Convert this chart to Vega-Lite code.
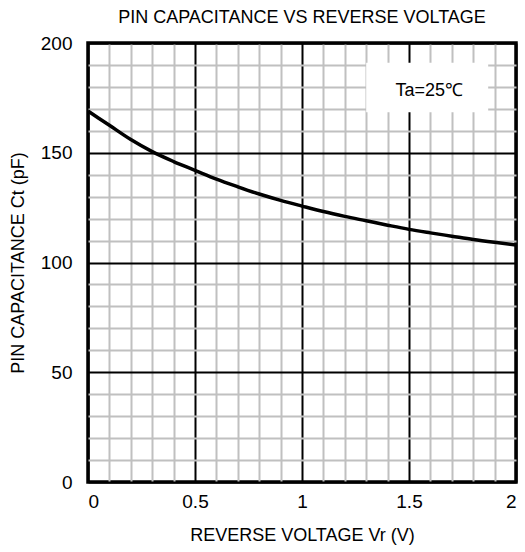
{
  "$schema": "https://vega.github.io/schema/vega-lite/v6.json",
  "autosize": "none",
  "width": 428,
  "height": 439,
  "padding": {"left": 88, "top": 43, "right": 9, "bottom": 70},
  "background": "white",
  "config": {
    "font": "Liberation Sans",
    "view": {"stroke": "black", "strokeWidth": 3.5},
    "axis": {
      "domain": false,
      "ticks": false,
      "labelFont": "Liberation Sans",
      "labelFontSize": 19,
      "labelColor": "black",
      "titleFont": "Liberation Sans",
      "titleFontSize": 18,
      "titleFontWeight": "normal",
      "titleColor": "black",
      "gridWidth": 2,
      "gridOpacity": 1
    }
  },
  "title": {
    "text": "PIN CAPACITANCE VS REVERSE VOLTAGE",
    "font": "Liberation Sans",
    "fontSize": 18,
    "fontWeight": "normal",
    "color": "black",
    "offset": 7
  },
  "datasets": {
    "curve": [
      {"v": 0, "c": 169},
      {"v": 0.1, "c": 162.5},
      {"v": 0.2, "c": 156},
      {"v": 0.3, "c": 150.5},
      {"v": 0.4, "c": 146},
      {"v": 0.5, "c": 142},
      {"v": 0.6, "c": 138},
      {"v": 0.7, "c": 134.5},
      {"v": 0.8, "c": 131.2},
      {"v": 0.9, "c": 128.3},
      {"v": 1.0, "c": 125.7},
      {"v": 1.1, "c": 123.2},
      {"v": 1.2, "c": 121},
      {"v": 1.3, "c": 119},
      {"v": 1.4, "c": 117},
      {"v": 1.5, "c": 115.1},
      {"v": 1.6, "c": 113.5},
      {"v": 1.7, "c": 112},
      {"v": 1.8, "c": 110.5},
      {"v": 1.9, "c": 109.2},
      {"v": 2.0, "c": 108}
    ],
    "notebox": [
      {"v": 1.3, "v2": 1.87, "c": 168.5, "c2": 191}
    ],
    "notetext": [
      {"v": 1.595, "c": 178, "label": "Ta=25℃"}
    ]
  },
  "encoding": {
    "x": {
      "field": "v", "type": "quantitative",
      "scale": {"domain": [0, 2], "nice": false},
      "axis": {
        "title": "REVERSE VOLTAGE Vr (V)",
        "values": [0, 0.1, 0.2, 0.3, 0.4, 0.5, 0.6, 0.7, 0.8, 0.9, 1, 1.1, 1.2, 1.3, 1.4, 1.5, 1.6, 1.7, 1.8, 1.9, 2],
        "gridColor": {"condition": {"test": "abs(datum.value*2 - round(datum.value*2)) < 0.001", "value": "black"}, "value": "#c0c0c0"},
        "labelExpr": "abs(datum.value*2 - round(datum.value*2)) < 0.001 ? '' + datum.value : ''",
        "labelOverlap": false,
        "labelPadding": 10,
        "titlePadding": 15
      }
    },
    "y": {
      "field": "c", "type": "quantitative",
      "scale": {"domain": [0, 200], "nice": false},
      "axis": {
        "title": "PIN CAPACITANCE Ct (pF)",
        "values": [0, 10, 20, 30, 40, 50, 60, 70, 80, 90, 100, 110, 120, 130, 140, 150, 160, 170, 180, 190, 200],
        "gridColor": {"condition": {"test": "datum.value % 50 === 0", "value": "black"}, "value": "#c0c0c0"},
        "labelExpr": "datum.value % 50 === 0 ? '' + datum.value : ''",
        "labelOverlap": false,
        "labelPadding": 16,
        "titlePadding": 13
      }
    }
  },
  "layer": [
    {
      "data": {"name": "curve"},
      "mark": {"type": "line", "color": "black", "strokeWidth": 3.5, "interpolate": "monotone"}
    },
    {
      "data": {"name": "notebox"},
      "mark": {"type": "rect", "fill": "white", "stroke": null},
      "encoding": {
        "x2": {"field": "v2"},
        "y2": {"field": "c2"}
      }
    },
    {
      "data": {"name": "notetext"},
      "mark": {"type": "text", "font": "Liberation Sans", "fontSize": 18, "color": "black", "align": "center", "baseline": "middle"},
      "encoding": {
        "text": {"field": "label"}
      }
    }
  ]
}
